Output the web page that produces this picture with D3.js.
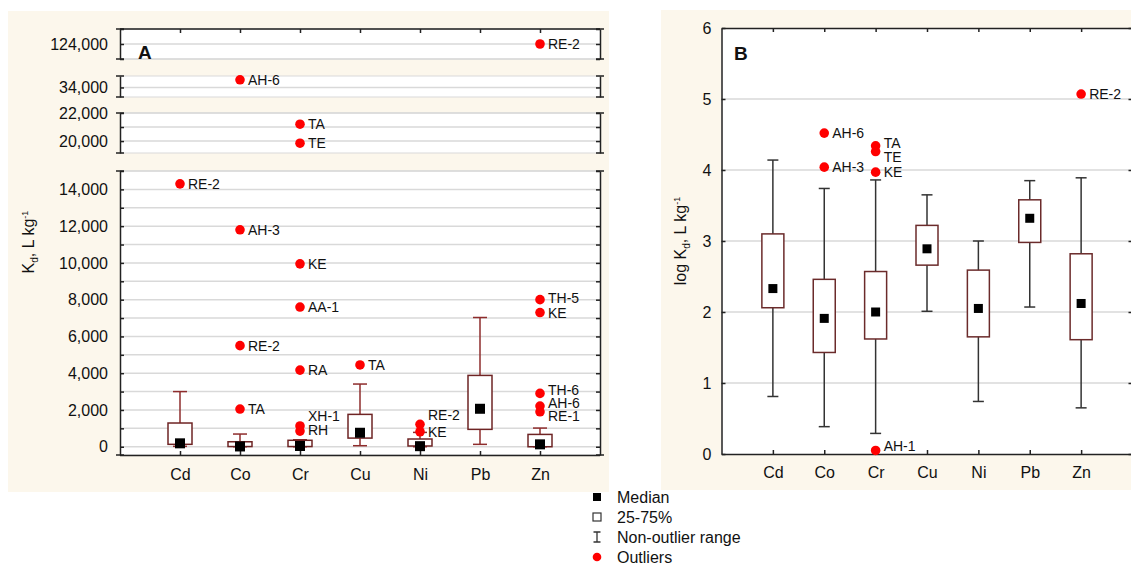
<!DOCTYPE html>
<html>
<head>
<meta charset="utf-8">
<script src="https://cdn.jsdelivr.net/npm/d3@7"></script>
<style>
body{margin:0;background:#fff}
text{font-family:"Liberation Sans",Arial,sans-serif;fill:#111}
</style>
</head>
<body>
<div id="chart"></div>
<script>
const metals = ["Cd", "Co", "Cr", "Cu", "Ni", "Pb", "Zn"]

// Panel A - Kd, L/kg
const kdLow    = [20, 0, 0, 55, 0, 130, 0]
const kdQ1     = [130, 10, 10, 470, 40, 945, 0]
const kdMedian = [185, 15, 40, 760, 30, 2065, 130]
const kdQ3     = [1290, 270, 350, 1760, 420, 3880, 670]
const kdHigh   = [3000, 690, 380, 3410, 780, 7030, 1015]
const kdOutliers = [
  {metal:"Cd", value:14300, site:"RE-2"},
  {metal:"Co", value:34400, site:"AH-6"},
  {metal:"Co", value:11800, site:"AH-3"},
  {metal:"Co", value:5500, site:"RE-2"},
  {metal:"Co", value:2050, site:"TA"},
  {metal:"Cr", value:21200, site:"TA"},
  {metal:"Cr", value:19850, site:"TE"},
  {metal:"Cr", value:9950, site:"KE"},
  {metal:"Cr", value:7600, site:"AA-1"},
  {metal:"Cr", value:4170, site:"RA"},
  {metal:"Cr", value:1130, site:"XH-1"},
  {metal:"Cr", value:850, site:"RH"},
  {metal:"Cu", value:4450, site:"TA"},
  {metal:"Ni", value:1220, site:"RE-2"},
  {metal:"Ni", value:815, site:"KE"},
  {metal:"Zn", value:124000, site:"RE-2"},
  {metal:"Zn", value:8000, site:"TH-5"},
  {metal:"Zn", value:7300, site:"KE"},
  {metal:"Zn", value:2900, site:"TH-6"},
  {metal:"Zn", value:2210, site:"AH-6"},
  {metal:"Zn", value:1900, site:"RE-1"}
]
// broken y axis of panel A, bottom segment first
const kdBreaks = [[-450, 15000], [19150, 22000], [33500, 34600], [123000, 125000]]
const kdTickLabels = [[0, 2000, 4000, 6000, 8000, 10000, 12000, 14000], [20000, 22000], [34000], [124000]]

// Panel B - log Kd
const logLow    = [0.81, 0.385, 0.29, 2.01, 0.74, 2.07, 0.65]
const logQ1     = [2.06, 1.43, 1.62, 2.66, 1.65, 2.98, 1.61]
const logMedian = [2.33, 1.91, 2.0, 2.89, 2.05, 3.32, 2.12]
const logQ3     = [3.10, 2.46, 2.57, 3.22, 2.59, 3.58, 2.82]
const logHigh   = [4.14, 3.74, 3.86, 3.65, 3.0, 3.85, 3.89]
const logOutliers = [
  {metal:"Co", value:4.52, site:"AH-6"},
  {metal:"Co", value:4.04, site:"AH-3"},
  {metal:"Cr", value:4.34, site:"TA"},
  {metal:"Cr", value:4.26, site:"TE"},
  {metal:"Cr", value:3.97, site:"KE"},
  {metal:"Cr", value:0.05, site:"AH-1"},
  {metal:"Zn", value:5.07, site:"RE-2"}
]
const logTicks = [0, 1, 2, 3, 4, 5, 6]

const legendItems = ["Median", "25-75%", "Non-outlier range", "Outliers"]

// small label shifts where outlier labels would collide
const nudgeA = {"Cr XH-1":-10, "Cr RH":-1, "Ni RE-2":-9, "Zn TH-6":-3, "Zn AH-6":-3, "Zn RE-1":4, "Zn TH-5":-2}
const nudgeB = {"Cr TA":-3, "Cr TE":5, "Cr AH-1":-4}

const width = 1131
const height = 564
const cream = "#fcf7ec"
const gridColor = "#d9d9d9"
const axisColor = "#222"

var svg = d3.select("#chart").append("svg")
  .attr("width", width)
  .attr("height", height)

svg.append("rect").attr("x", 8).attr("y", 11).attr("width", 601).attr("height", 481).attr("fill", cream)
svg.append("rect").attr("x", 661).attr("y", 10).attr("width", 470).attr("height", 480).attr("fill", cream)

function styleAxis(g){
  g.selectAll("path,line").attr("stroke", axisColor).attr("stroke-width", 1.5)
  g.selectAll("text").style("font-size", "16px").attr("fill", "#111")
}

// ================= Panel A =================
const a = {left:120, right:600, top:29, bottom:455}
const segPx = [[455, 171], [153, 113], [97, 76], [59, 29]]
const xA = d3.scalePoint().domain(metals).range([a.left, a.right]).padding(1)
const segScales = kdBreaks.map((dom, i) => d3.scaleLinear().domain(dom).range(segPx[i]))
const yA = v => {
  const s = segScales.find(s => v >= s.domain()[0] && v <= s.domain()[1]) || segScales[0]
  return s(v)
}
const gA = svg.append("g")

segScales.forEach((s, i) => {
  const [d0, d1] = s.domain()
  const [y0, y1] = s.range()
  gA.append("rect").attr("x", a.left).attr("y", y1).attr("width", a.right - a.left).attr("height", y0 - y1).attr("fill", "#fff")
  const grid = d3.range(Math.ceil(d0 / 1000) * 1000, d1 + 1, 1000)
  gA.selectAll(null).data(grid).enter().append("line")
    .attr("x1", a.left).attr("x2", a.right)
    .attr("y1", d => s(d)).attr("y2", d => s(d))
    .attr("stroke", gridColor).attr("stroke-width", 1.5)
  // segment edges
  gA.selectAll(null).data([y0, y1]).enter().append("line")
    .attr("x1", a.left).attr("x2", a.right).attr("y1", d => d).attr("y2", d => d)
    .attr("stroke", gridColor).attr("stroke-width", 1.2)

  const left = gA.append("g").attr("transform", "translate(" + a.left + ",0)")
    .call(d3.axisLeft(s).tickValues(grid).tickSize(-4).tickSizeOuter(0).tickPadding(12)
      .tickFormat(d => kdTickLabels[i].includes(d) ? d3.format(",")(d) : ""))
  styleAxis(left)
  const right = gA.append("g").attr("transform", "translate(" + a.right + ",0)")
    .call(d3.axisRight(s).tickValues(grid).tickSize(-4).tickSizeOuter(0).tickFormat(""))
  styleAxis(right)
  // bracket caps
  ;[a.left, a.right].forEach(x => {
    gA.selectAll(null).data([y0, y1]).enter().append("line")
      .attr("x1", x - 4).attr("x2", x + 4).attr("y1", d => d).attr("y2", d => d)
      .attr("stroke", axisColor).attr("stroke-width", 1.5)
  })
})

const topA = gA.append("g").attr("transform", "translate(0," + a.top + ")")
  .call(d3.axisTop(xA).tickSize(-4).tickSizeOuter(0).tickFormat(""))
topA.select(".domain").remove()
styleAxis(topA)
gA.append("line").attr("x1", a.left).attr("x2", a.right).attr("y1", a.top).attr("y2", a.top)
  .attr("stroke", axisColor).attr("stroke-width", 1.5)
const botA = gA.append("g").attr("transform", "translate(0," + a.bottom + ")")
  .call(d3.axisBottom(xA).tickSize(-4).tickSizeOuter(0).tickPadding(14))
styleAxis(botA)
botA.select(".domain").attr("d", "M" + a.left + ",0.5H" + a.right)

function drawBoxes(g, x, y, low, q1, med, q3, high, o){
  const boxes = g.selectAll(null).data(metals).enter().append("g")
  boxes.append("line")
    .attr("x1", d => x(d)).attr("x2", d => x(d))
    .attr("y1", (d, i) => y(low[i])).attr("y2", (d, i) => y(high[i]))
    .attr("stroke", o.whisker).attr("stroke-width", 1.5)
  boxes.append("line")
    .attr("x1", d => x(d) - o.cap / 2).attr("x2", d => x(d) + o.cap / 2)
    .attr("y1", (d, i) => y(high[i])).attr("y2", (d, i) => y(high[i]))
    .attr("stroke", o.whisker).attr("stroke-width", 1.5)
  boxes.append("line")
    .attr("x1", d => x(d) - o.cap / 2).attr("x2", d => x(d) + o.cap / 2)
    .attr("y1", (d, i) => y(low[i])).attr("y2", (d, i) => y(low[i]))
    .attr("stroke", o.whisker).attr("stroke-width", 1.5)
  boxes.append("rect")
    .attr("x", d => x(d) - o.box / 2).attr("width", o.box)
    .attr("y", (d, i) => y(q3[i])).attr("height", (d, i) => Math.max(1, y(q1[i]) - y(q3[i])))
    .attr("fill", "#fff").attr("stroke", o.boxStroke).attr("stroke-width", 1.5)
  boxes.append("rect")
    .attr("x", d => x(d) - o.med / 2).attr("width", o.med)
    .attr("y", (d, i) => y(med[i]) - o.med / 2).attr("height", o.med)
    .attr("fill", "#000")
}

function drawOutliers(g, x, y, data, nudge){
  g.selectAll(null).data(data).enter().append("circle")
    .attr("cx", d => x(d.metal)).attr("cy", d => y(d.value)).attr("r", 4.8)
    .attr("fill", "#ff0000")
  g.selectAll(null).data(data).enter().append("text")
    .attr("x", d => x(d.metal) + 8)
    .attr("y", d => y(d.value) + (nudge[d.metal + " " + d.site] || 0))
    .attr("dominant-baseline", "central")
    .style("font-size", "14px")
    .text(d => d.site)
}

drawBoxes(gA, xA, yA, kdLow, kdQ1, kdMedian, kdQ3, kdHigh,
  {whisker:"#8e2c2c", boxStroke:"#6e2424", cap:14, box:24, med:10})
drawOutliers(gA, xA, yA, kdOutliers, nudgeA)

gA.append("text").attr("x", 138).attr("y", 59)
  .style("font-size", "19px").style("font-weight", "bold").text("A")

const titleA = gA.append("text")
  .attr("transform", "translate(34,242) rotate(-90)")
  .attr("text-anchor", "middle").style("font-size", "16px")
titleA.append("tspan").text("K")
titleA.append("tspan").attr("dy", 4).style("font-size", "10px").text("d")
titleA.append("tspan").attr("dy", -4).text(", L kg")
titleA.append("tspan").attr("dy", -6).style("font-size", "9px").text("-1")

// ================= Panel B =================
const b = {left:721.5, right:1132.5, top:28, bottom:454}
const xB = d3.scalePoint().domain(metals).range([b.left, b.right]).padding(1)
const yB = d3.scaleLinear().domain([0, 6]).range([b.bottom, b.top])
const gB = svg.append("g")

gB.append("rect").attr("x", b.left).attr("y", b.top).attr("width", b.right - b.left).attr("height", b.bottom - b.top).attr("fill", "#fff")
gB.selectAll(null).data(logTicks.slice(1, -1)).enter().append("line")
  .attr("x1", b.left).attr("x2", b.right).attr("y1", d => yB(d)).attr("y2", d => yB(d))
  .attr("stroke", gridColor).attr("stroke-width", 1.5)

styleAxis(gB.append("g").attr("transform", "translate(" + b.left + ",0)")
  .call(d3.axisLeft(yB).tickValues(logTicks).tickSize(-4).tickSizeOuter(0).tickPadding(10).tickFormat(d3.format("d"))))
styleAxis(gB.append("g").attr("transform", "translate(" + b.right + ",0)")
  .call(d3.axisRight(yB).tickValues(logTicks).tickSize(-4).tickSizeOuter(0).tickFormat("")))
styleAxis(gB.append("g").attr("transform", "translate(0," + b.top + ")")
  .call(d3.axisTop(xB).tickSize(-4).tickSizeOuter(0).tickFormat("")))
styleAxis(gB.append("g").attr("transform", "translate(0," + b.bottom + ")")
  .call(d3.axisBottom(xB).tickSize(-4).tickSizeOuter(0).tickPadding(13)))

drawBoxes(gB, xB, yB, logLow, logQ1, logMedian, logQ3, logHigh,
  {whisker:"#333", boxStroke:"#6b2b2b", cap:11, box:22, med:9})
drawOutliers(gB, xB, yB, logOutliers, nudgeB)

gB.append("text").attr("x", 734).attr("y", 60)
  .style("font-size", "19px").style("font-weight", "bold").text("B")

const titleB = gB.append("text")
  .attr("transform", "translate(686,241) rotate(-90)")
  .attr("text-anchor", "middle").style("font-size", "16px")
titleB.append("tspan").text("log K")
titleB.append("tspan").attr("dy", 4).style("font-size", "10px").text("d")
titleB.append("tspan").attr("dy", -4).text(", L kg")
titleB.append("tspan").attr("dy", -6).style("font-size", "9px").text("-1")

// ================= Legend =================
const legend = svg.append("g").attr("transform", "translate(597,497)")
const rowH = 20
legend.append("rect").attr("x", -4).attr("y", -4).attr("width", 8).attr("height", 8).attr("fill", "#000")
legend.append("rect").attr("x", -4).attr("y", rowH - 4).attr("width", 8).attr("height", 8)
  .attr("fill", "#fff").attr("stroke", "#333").attr("stroke-width", 1.2)
legend.append("path").attr("d", "M-3.5," + (2 * rowH - 5) + "H3.5M0," + (2 * rowH - 5) + "V" + (2 * rowH + 5) + "M-3.5," + (2 * rowH + 5) + "H3.5")
  .attr("stroke", "#333").attr("stroke-width", 1.3).attr("fill", "none")
legend.append("circle").attr("cx", 0).attr("cy", 3 * rowH).attr("r", 4.3).attr("fill", "#ff0000")
legend.selectAll(null).data(legendItems).enter().append("text")
  .attr("x", 20).attr("y", (d, i) => i * rowH)
  .attr("dominant-baseline", "central")
  .style("font-size", "16px")
  .text(d => d)
</script>
</body>
</html>
